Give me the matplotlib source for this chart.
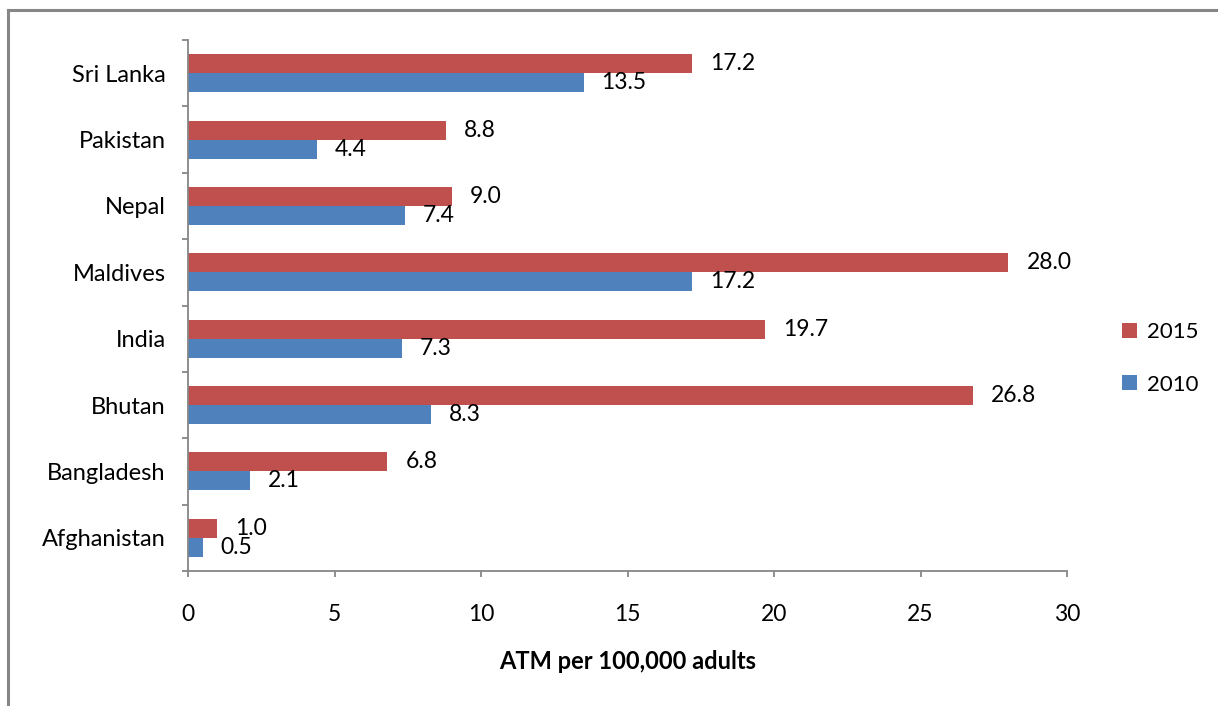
import matplotlib.pyplot as plt
from matplotlib.lines import Line2D
import numpy as np

countries = ['Afghanistan', 'Bangladesh', 'Bhutan', 'India', 'Maldives', 'Nepal', 'Pakistan', 'Sri Lanka']
atm_2010 = [0.5, 2.1, 8.3, 7.3, 17.2, 7.4, 4.4, 13.5]
atm_2015 = [1.0, 6.8, 26.8, 19.7, 28.0, 9.0, 8.8, 17.2]

red = '#C0504D'
blue = '#4F81BD'
axis_grey = '#868686'

plt.rcParams['font.family'] = ['Lato', 'DejaVu Sans']
plt.rcParams['font.size'] = 16.5

fig = plt.figure(figsize=(12.18, 7.06), dpi=100)
ax = fig.add_axes([188 / 1218, 1 - 571 / 706, (1067 - 188) / 1218, (571 - 40) / 706])

y = np.arange(len(countries))
h = 0.286
bars15 = ax.barh(y + h / 2, atm_2015, height=h, color=red, label='2015')
bars10 = ax.barh(y - h / 2, atm_2010, height=h, color=blue, label='2010')

for bars, vals in [(bars15, atm_2015), (bars10, atm_2010)]:
    for b, v in zip(bars, vals):
        ax.annotate(f'{v:.1f}', (b.get_width(), b.get_y() + b.get_height() / 2),
                    xytext=(13, 0), textcoords='offset points',
                    ha='left', va='center', fontsize=16.5)

ax.set_xlim(0, 30)
ax.set_ylim(-0.5, len(countries) - 0.5)
ax.set_xticks(range(0, 31, 5))
ax.set_yticks(y)
ax.set_yticklabels(countries, fontsize=17)
ax.set_yticks(np.arange(-0.5, len(countries), 1), minor=True)
ax.tick_params(axis='y', which='major', length=0, pad=16)
ax.tick_params(axis='y', which='minor', length=4.5, width=1.3, color=axis_grey)
ax.tick_params(axis='x', length=4.5, width=1.3, color=axis_grey, pad=19)

for side in ['top', 'right']:
    ax.spines[side].set_visible(False)
for side in ['left', 'bottom']:
    ax.spines[side].set_color(axis_grey)
    ax.spines[side].set_linewidth(1.3)

ax.set_xlabel('ATM per 100,000 adults', fontweight='bold', fontsize=17, labelpad=18)

ax.legend(loc='center left', bbox_to_anchor=(1.04, 0.40), frameon=False,
          handlelength=0.65, handleheight=0.65, handletextpad=0.45,
          labelspacing=1.45, fontsize=16)

# outer chart border (only top and left edges fall inside the image)
fig.add_artist(Line2D([8 / 1218, 8 / 1218], [0, 1 - 10 / 706], color=axis_grey, lw=2.2))
fig.add_artist(Line2D([8 / 1218, 1], [1 - 10 / 706, 1 - 10 / 706], color=axis_grey, lw=2.2))

fig.savefig('out.png', dpi=100)
